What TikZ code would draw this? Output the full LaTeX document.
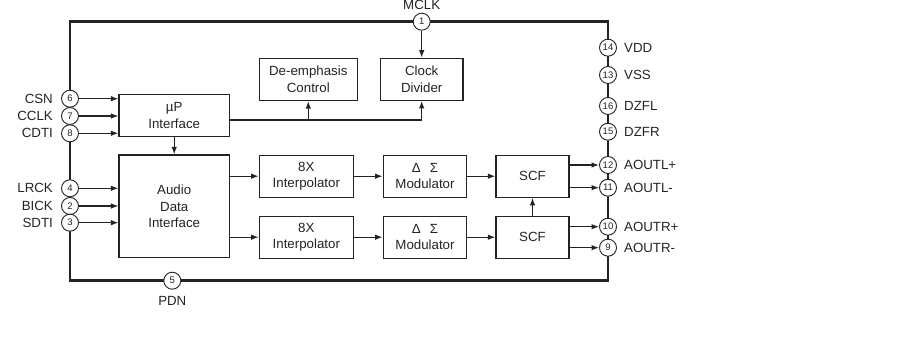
\documentclass[tikz,border=0pt]{standalone}
\usepackage{fontspec}
\setmainfont{Liberation Sans}
\usetikzlibrary{arrows.meta,positioning}
\definecolor{ink}{HTML}{232323}
\begin{document}
\begin{tikzpicture}[x=1pt,y=-1pt, color=ink,
  font=\fontsize{13.3}{16.5}\selectfont,
  blk/.style={draw, line width=1.2pt, inner sep=0pt, align=center, minimum height=42pt},
  pin/.style={circle, draw, fill=white, line width=0.9pt, minimum size=17pt, inner sep=0pt, font=\fontsize{9.5}{9.5}\selectfont},
  sig/.style={line width=1.2pt, -{Latex[length=7.5pt,width=5.5pt]}},
  wire/.style={line width=1.2pt},
  chip/.style={line width=2.7pt},
  lbl/.style={inner sep=0pt}]
\useasboundingbox (0,0) rectangle (908,352);

% chip outline
\draw[chip] (70,21.7) rectangle (608,280.7);

% blocks
\node[blk, minimum width=82.7pt] (cd) at (421.7,79.3) {Clock\\Divider};
\node[blk, minimum width=98pt] (de) at (308.3,79.5) {De-emphasis\\Control};
\node[blk, minimum width=110.3pt, minimum height=42.4pt] (up) at (174.2,115.5) {µP\\Interface};
\node[blk, minimum width=110.3pt, minimum height=102.7pt] (adi) at (174.2,206.3) {Audio\\Data\\Interface};
\node[blk, minimum width=94pt] (i1) at (306.3,176.2) {8X\\Interpolator};
\node[blk, minimum width=94pt] (i2) at (306.3,237.2) {8X\\Interpolator};
\node[blk, minimum width=83.4pt] (m1) at (425,176.2) {Δ\hspace{0.7em}Σ\\Modulator};
\node[blk, minimum width=83.4pt] (m2) at (425,237.2) {Δ\hspace{0.7em}Σ\\Modulator};
\node[blk, minimum width=73pt] (s1) at (532.5,176.2) {SCF};
\node[blk, minimum width=73pt] (s2) at (532.5,237.2) {SCF};

% pins
\node[pin] (p1) at (421.7,21.7) {1};
\node[pin] (p6) at (70,98.7) {6};
\node[pin] (p7) at (70,116) {7};
\node[pin] (p8) at (70,133.3) {8};
\node[pin] (p4) at (70,188.3) {4};
\node[pin] (p2) at (70,206) {2};
\node[pin] (p3) at (70,222.7) {3};
\node[pin] (p5) at (172.3,280.7) {5};
\node[pin] (p14) at (608,47.7) {14};
\node[pin] (p13) at (608,75) {13};
\node[pin] (p16) at (608,106) {16};
\node[pin] (p15) at (608,131.7) {15};
\node[pin] (p12) at (608,165) {12};
\node[pin] (p11) at (608,187.7) {11};
\node[pin] (p10) at (608,226.7) {10};
\node[pin] (p9) at (608,247.7) {9};

% pin labels
\node[lbl, above=3pt of p1] (lmclk) {MCLK};
\node[lbl, below=7pt of p5] (lpdn) {PDN};
\node[lbl, left=8pt of p6] (lcsn) {CSN};
\node[lbl, left=8pt of p7] (lcclk) {CCLK};
\node[lbl, left=8pt of p8] (lcdti) {CDTI};
\node[lbl, left=8pt of p4] (llrck) {LRCK};
\node[lbl, left=8pt of p2] (lbick) {BICK};
\node[lbl, left=8pt of p3] (lsdti) {SDTI};
\node[lbl, right=7pt of p14] (lvdd) {VDD};
\node[lbl, right=7pt of p13] (lvss) {VSS};
\node[lbl, right=7pt of p16] (ldzfl) {DZFL};
\node[lbl, right=7pt of p15] (ldzfr) {DZFR};
\node[lbl, right=7pt of p12] (laoutlp) {AOUTL+};
\node[lbl, right=7pt of p11] (laoutlm) {AOUTL-};
\node[lbl, right=7pt of p10] (laoutrp) {AOUTR+};
\node[lbl, right=7pt of p9] (laoutrm) {AOUTR-};

% connectors
\draw[sig] (p1.south) -- (cd.north);
\draw[sig] (p6.east) -- (p6.east -| up.west);
\draw[sig] (p7.east) -- (p7.east -| up.west);
\draw[sig] (p8.east) -- (p8.east -| up.west);
\draw[sig] (p4.east) -- (p4.east -| adi.west);
\draw[sig] (p2.east) -- (p2.east -| adi.west);
\draw[sig] (p3.east) -- (p3.east -| adi.west);
\coordinate (upout) at (229.3,120);
\draw[sig] (upout) -| (cd.south);
\draw[sig] (de.south |- upout) -- (de.south);
\draw[sig] (up.south) -- (adi.north);
\draw[sig] (adi.east |- i1.west) -- (i1.west);
\draw[sig] (adi.east |- i2.west) -- (i2.west);
\draw[sig] (i1.east) -- (m1.west);
\draw[sig] (i2.east) -- (m2.west);
\draw[sig] (m1.east) -- (s1.west);
\draw[sig] (m2.east) -- (s2.west);
\draw[sig] (s2.north) -- (s1.south);
\draw[sig] (s1.east |- p12.west) -- (p12.west);
\draw[sig] (s1.east |- p11.west) -- (p11.west);
\draw[sig] (s2.east |- p10.west) -- (p10.west);
\draw[sig] (s2.east |- p9.west) -- (p9.west);
\end{tikzpicture}
\end{document}
